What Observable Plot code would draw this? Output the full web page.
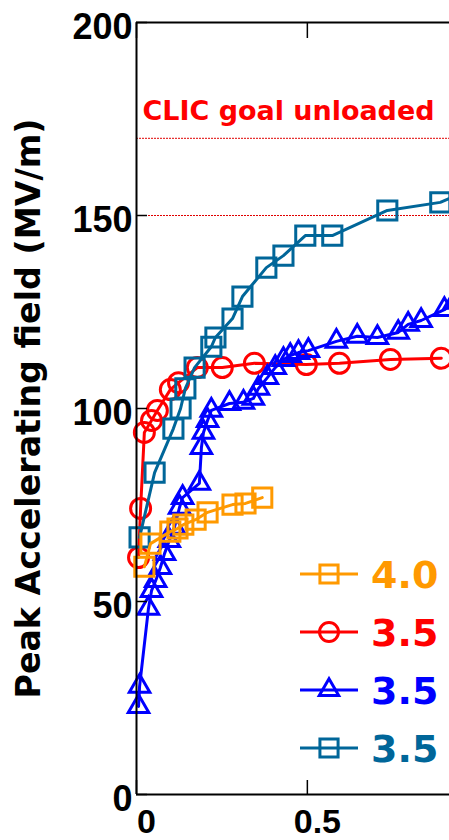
<!DOCTYPE html>
<html><head><meta charset="utf-8">
<script src="https://cdn.jsdelivr.net/npm/d3@7"></script>
<script src="https://cdn.jsdelivr.net/npm/@observablehq/plot@0.6"></script>
<style>
html,body{margin:0;padding:0;background:#fff;overflow:hidden;}
#chart{position:relative;width:449px;height:840px;overflow:hidden;}
#legend{position:absolute;left:0;top:0;pointer-events:none;}
g[aria-label="y-axis label"], g[aria-label="y-axis label"] text{font-family:"DejaVu Sans",sans-serif !important;font-size:33px !important;font-weight:bold !important;fill:#000;}
</style></head><body><div id="chart"></div>
<script>
// ---- data ----
const orangeX = [0.023, 0.041, 0.099, 0.120, 0.137, 0.173, 0.208, 0.281, 0.319, 0.368];
const orangeY = [59.0, 65.0, 68.1, 68.9, 69.9, 71.2, 73.1, 75.1, 75.4, 76.9];

const redX = [0.006, 0.012, 0.023, 0.044, 0.061, 0.099, 0.123, 0.178, 0.251, 0.345, 0.497, 0.594, 0.743, 0.892];
const redY = [61.4, 74.1, 93.8, 96.9, 99.5, 104.9, 106.7, 110.6, 110.6, 111.7, 111.4, 111.7, 112.7, 113.0];

const blueX = [0.006, 0.009, 0.035, 0.044, 0.056, 0.070, 0.082, 0.096, 0.111, 0.126, 0.135, 0.184, 0.190, 0.196, 0.208, 0.219, 0.272, 0.313, 0.342, 0.357, 0.383, 0.406, 0.430, 0.450, 0.474, 0.503, 0.585, 0.646, 0.705, 0.766, 0.795, 0.833, 0.901, 0.930];
const blueY = [22.8, 28.0, 48.2, 52.8, 55.4, 58.8, 62.4, 65.8, 69.2, 74.4, 76.9, 80.6, 89.9, 93.8, 96.9, 99.5, 101.3, 101.6, 102.6, 105.2, 108.0, 110.6, 112.7, 113.7, 114.5, 115.0, 117.4, 118.7, 118.4, 119.7, 121.8, 122.8, 125.6, 127.5];

const tealX = [0.009, 0.053, 0.108, 0.129, 0.143, 0.170, 0.219, 0.231, 0.281, 0.310, 0.380, 0.430, 0.494, 0.573, 0.734, 0.889, 0.970];
const tealY = [66.6, 83.4, 94.8, 100.0, 105.2, 110.6, 116.0, 118.4, 123.3, 129.0, 136.5, 139.6, 144.8, 144.8, 151.3, 153.4, 156.5];

const legendLabels = ["4.0", "3.5", "3.5", "3.5"];
const goalLines = [150, 170];
const goalLabel = "CLIC goal unloaded";
const yLabel = "Peak Accelerating field (MV/m)";
const xTickMarks = [0, 0.5, 1];
const xTickLabels = [0, 0.5];
const yTicks = [0, 50, 100, 150, 200];
const xDomain = [0, 0.916];
const yDomain = [0, 200];

// ---- build ----
const rows = (xs, ys) => xs.map((x, i) => ({x, y: ys[i]}));
const series = [
  {label: legendLabels[0], color: "#FF9900", symbol: "square", r: 10.8, data: rows(orangeX, orangeY), order: 3},
  {label: legendLabels[1], color: "#FF0000", symbol: "circle", r: 10, data: rows(redX, redY), order: 0},
  {label: legendLabels[2], color: "#0000FF", symbol: "triangle", r: 7.6, data: rows(blueX, blueY), order: 1},
  {label: legendLabels[3], color: "#006699", symbol: "square", r: 10.8, data: rows(tealX, tealY), order: 2}
];

const tickFont = {fontSize: 36, fontWeight: "bold", fontFamily: "Liberation Sans, Arial, sans-serif", fill: "#000"};
const marks = [
  Plot.ruleY(goalLines, {stroke: "#E00000", strokeWidth: 1, strokeDasharray: "2,1"}),
  Plot.text([goalLines[1]], {y: d => d, frameAnchor: "left", text: () => goalLabel, textAnchor: "start", lineAnchor: "bottom", dx: 6, dy: -18, fill: "#FF0000", fontSize: 26, fontWeight: "bold", fontFamily: "DejaVu Sans, sans-serif"})
];
[...series].sort((a, b) => a.order - b.order).forEach(s => {
  marks.push(Plot.line(s.data, {x: "x", y: "y", stroke: s.color, strokeWidth: 3}));
  marks.push(Plot.dot(s.data, {x: "x", y: "y", stroke: s.color, strokeWidth: 3, fill: "none", symbol: s.symbol, r: s.r}));
});
marks.push(
  Plot.axisY({ticks: yTicks, tickSize: 0, tickPadding: 4, dy: 5, ...tickFont, label: yLabel, labelAnchor: "center", labelOffset: 120}),
  Plot.axisY({ticks: yTicks, tickSize: -11, tickFormat: () => "", label: null, strokeWidth: 1.5}),
  Plot.axisX({ticks: xTickLabels, tickSize: 0, tickPadding: 14, dx: 10, tickFormat: d => String(d), ...tickFont, fontSize: 34, label: null}),
  Plot.axisX({ticks: xTickMarks, tickSize: -14, tickFormat: () => "", label: null, strokeWidth: 1.5}),
  Plot.axisX({anchor: "top", ticks: xTickMarks, tickSize: -15, tickFormat: () => "", label: null, strokeWidth: 1.5}),
  Plot.ruleY(yDomain, {stroke: "#000", strokeWidth: 2}),
  Plot.ruleX([xDomain[0]], {stroke: "#000", strokeWidth: 2})
);

const svg = Plot.plot({
  width: 449, height: 840,
  marginLeft: 136, marginRight: 0, marginTop: 22, marginBottom: 46,
  x: {domain: xDomain},
  y: {domain: yDomain},
  style: {background: "#fff", overflow: "hidden"},
  marks
});
const chart = document.getElementById("chart");
chart.appendChild(svg);

// y label: no arrow, fixed length
const lab = svg.querySelector('g[aria-label="y-axis label"] text');
if (lab) { lab.textContent = yLabel; lab.setAttribute("textLength", 580); lab.setAttribute("lengthAdjust", "spacingAndGlyphs"); }
// goal label length
svg.querySelectorAll("text").forEach(t => {
  if (t.textContent === goalLabel) { t.setAttribute("textLength", 292); t.setAttribute("lengthAdjust", "spacingAndGlyphs"); }
});

// ---- legend (overlay) ----
const L = d3.select(chart).append("svg").attr("id", "legend").attr("width", 449).attr("height", 840);
const symMap = {square: d3.symbolSquare, circle: d3.symbolCircle, triangle: d3.symbolTriangle};
series.forEach((s, i) => {
  const g = L.append("g").attr("transform", `translate(0,${574 + 58 * i})`);
  g.append("line").attr("x1", 300).attr("x2", 358).attr("stroke", s.color).attr("stroke-width", 3);
  g.append("path").attr("transform", "translate(329,0)")
    .attr("d", d3.symbol(symMap[s.symbol], Math.PI * s.r * s.r * 0.9)())
    .attr("fill", "none").attr("stroke", s.color).attr("stroke-width", 3);
  g.append("text").attr("x", 371).attr("y", 0).attr("dy", "0.36em")
    .attr("fill", s.color).attr("font-family", "DejaVu Sans, sans-serif").attr("font-weight", "bold").attr("font-size", 38)
    .text(s.label);
});
</script></body></html>
